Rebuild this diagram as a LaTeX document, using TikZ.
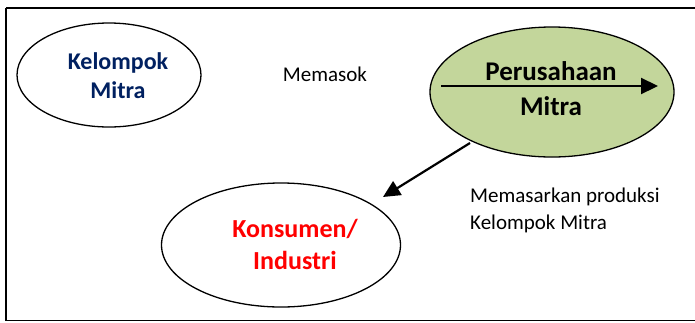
\documentclass[tikz,border=0pt]{standalone}
\usepackage{fontspec}
\setmainfont{Carlito}
\usetikzlibrary{shapes.geometric,arrows.meta}
\definecolor{olivefill}{RGB}{195,214,155}
\definecolor{navytext}{RGB}{0,32,96}
\tikzset{
  oval/.style={ellipse,draw=black,line width=1.3pt,inner sep=0pt},
  boldlbl/.style={align=center,inner sep=0pt},
  plainlbl/.style={font=\fontsize{21}{27}\selectfont,inner sep=0pt},
  bigarrow/.style={line width=2.2pt,-{Triangle[length=17pt,width=16pt]}}
}
\begin{document}
\begin{tikzpicture}[x=1pt,y=-1pt]
\useasboundingbox (0,0) rectangle (695,322);
\draw[line width=1.4pt] (6,8) -- (705,8);
\draw[line width=1.4pt] (6,8) -- (6,320.5) -- (705,320.5);
% ellipses
\node[oval,minimum width=184pt,minimum height=104pt] (kel) at (109,75) {};
\node[oval,fill=olivefill,minimum width=244pt,minimum height=130pt] (per) at (552,92) {};
\node[oval,minimum width=239pt,minimum height=124pt] (kon) at (281,245) {};
% labels
\node[boldlbl,text=navytext,font=\fontsize{24}{29}\selectfont\bfseries] (kelt) at (118,76) {Kelompok\\Mitra};
\node[boldlbl,text=black,font=\fontsize{27}{35}\selectfont\bfseries] (pert) at (551,89) {Perusahaan\\Mitra};
\node[boldlbl,text=red,font=\fontsize{26}{32}\selectfont\bfseries] (kont) at (295,244) {Konsumen/\\Industri};
\node[plainlbl] (memasok) at (325,74) {Memasok};
\node[plainlbl,align=left,anchor=west] (memasar) at (470,210) {Memasarkan produksi\\Kelompok Mitra};
% arrows
\coordinate (a1) at (441,86);
\coordinate (a2) at (658,86);
\coordinate (b1) at (470,143);
\coordinate (b2) at (383,197);
\draw[bigarrow] (a1) -- (a2);
\draw[bigarrow] (b1) -- (b2);
\end{tikzpicture}
\end{document}
